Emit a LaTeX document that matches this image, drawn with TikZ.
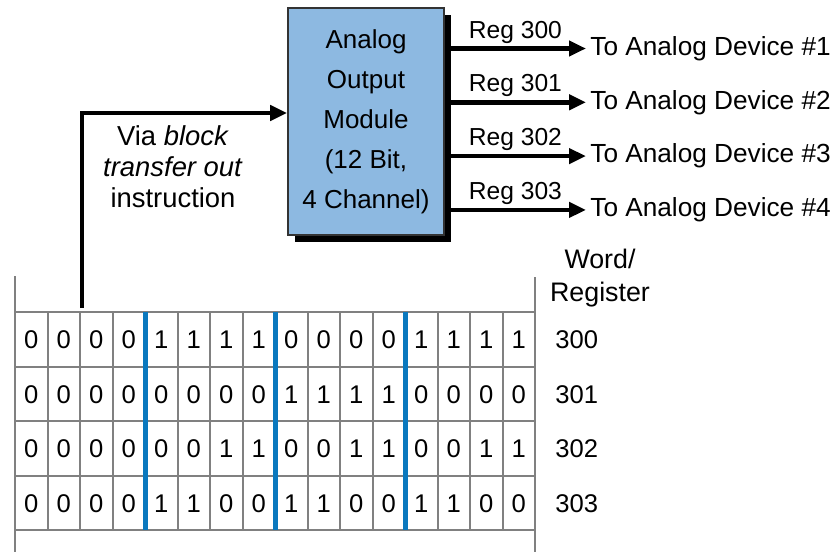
\documentclass[tikz,border=0pt]{standalone}
\usepackage{fontspec}
\setmainfont{Liberation Sans}
\usetikzlibrary{arrows.meta,shadows}
\definecolor{modfill}{RGB}{141,185,225}
\definecolor{nibble}{RGB}{10,120,190}
\definecolor{cellgray}{RGB}{128,128,128}
\begin{document}
\begin{tikzpicture}[x=0.5pt,y=-0.5pt,font=\fontsize{12.8}{15}\selectfont,
  flow/.style={line width=2.3pt,-{Triangle[length=8.5pt,width=7.5pt]}},
  cellline/.style={cellgray,line width=1pt},
  bit/.style={inner sep=0pt},
  regnum/.style={anchor=west,inner sep=2pt}]
  \useasboundingbox (0,0) rectangle (836,552);
  % output module
  \node[draw=black!80,line width=0.8pt,fill=modfill,minimum width=78pt,minimum height=113.5pt,
        align=center,font=\fontsize{13}{20}\selectfont,
        drop shadow={shadow xshift=3.5pt,shadow yshift=-3.5pt,fill=black,opacity=1}]
    (module) at (366,121.5) {Analog\\Output\\Module\\(12 Bit,\\4 Channel)};
  \foreach \n/\y in {1/48.5,2/102.3,3/156.1,4/209.9} {
    \node[anchor=west,inner sep=2pt,font=\fontsize{13.1}{15}\selectfont] (dev\n) at (586,\y) {To Analog Device \#\n};
    \pgfmathtruncatemacro{\regno}{299+\n}
    \draw[flow] (module.east |- dev\n.west) -- node[above,inner sep=1.5pt,font=\fontsize{12.3}{15}\selectfont] {Reg \regno} (dev\n.west);
  }
  % block transfer from the table
  \coordinate (tap) at (82,308);
  \coordinate (bend) at (82,113);
  \draw[flow] (tap) -- (bend) -- (module.west |- bend);
  \node[align=center,font=\fontsize{13.7}{15.5}\selectfont] (via) at (173,167)
    {Via \textit{block}\\\textit{transfer out}\\instruction};
  % data table
  \foreach \r in {0,...,4}
    \draw[cellline] (15,{312+54.5*\r}) -- (535,{312+54.5*\r});
  \foreach \c in {1,...,15}
    \draw[cellline] ({15+32.5*\c},312) -- ({15+32.5*\c},530);
  \draw[cellline] (15,276) -- (15,552);
  \draw[cellline] (535,277) -- (535,552);
  \foreach \c in {4,8,12}
    \draw[nibble,line width=2.5pt] ({15+32.5*\c},312) -- ({15+32.5*\c},530);
  \foreach \reg/\bits [count=\r from 0] in {
      300/{0,0,0,0,1,1,1,1,0,0,0,0,1,1,1,1},
      301/{0,0,0,0,0,0,0,0,1,1,1,1,0,0,0,0},
      302/{0,0,0,0,0,0,1,1,0,0,1,1,0,0,1,1},
      303/{0,0,0,0,1,1,0,0,1,1,0,0,1,1,0,0}} {
    \node[regnum] (reg\reg) at (551,{340+54.5*\r}) {\reg};
    \foreach \b [count=\c from 0] in \bits
      \node[bit] (b\reg-\c) at ({31.25+32.5*\c},{340+54.5*\r}) {\b};
  }
  \node[align=center,font=\fontsize{13.4}{16.5}\selectfont] (wordreg) at (600,278) {Word/\\Register};
\end{tikzpicture}
\end{document}
